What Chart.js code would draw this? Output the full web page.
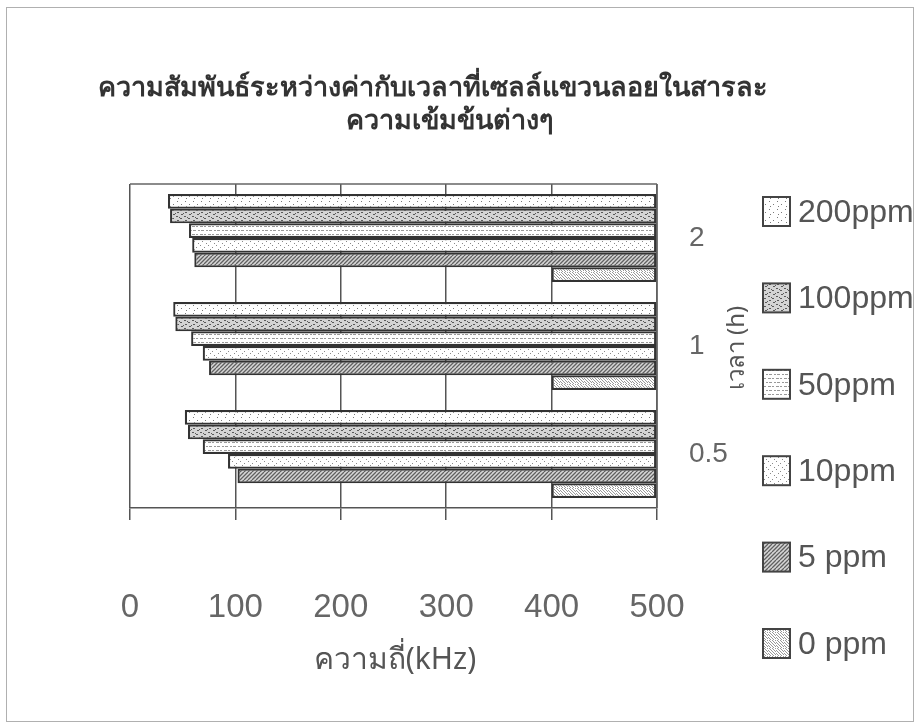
<!DOCTYPE html>
<html>
<head>
<meta charset="utf-8">
<script src="https://cdn.jsdelivr.net/npm/chart.js@4"></script>
<style>
  html, body { margin: 0; padding: 0; background: #fff; }
  #wrap { width: 920px; height: 728px; position: relative; }
</style>
</head>
<body>
<div id="wrap"><canvas id="cv" width="920" height="728"></canvas></div>
<script>
// ---------- Dados ----------
var tempos = ["2", "1", "0.5"];               // eixo de categorias (h), de cima para baixo
var series = ["200ppm", "100ppm", "50ppm", "10ppm", "5 ppm", "0 ppm"];
var ppm200 = [36, 41, 52];
var ppm100 = [38, 43, 55];
var ppm50  = [56, 58, 69];
var ppm10  = [59, 69, 93];
var ppm5   = [61, 75, 102];
var ppm0   = [400, 400, 400];
var xMin = 0, xMax = 500, xPasso = 100;

var tituloLinhas = ["ความสัมพันธ์ระหว่างค่ากับเวลาที่เซลล์แขวนลอยในสารละ", "ความเข้มข้นต่างๆ"];
var tituloX = "ความถี่(kHz)";
var tituloY = "เวลา (h)";

var FONTE = '"Liberation Sans", Arial, sans-serif';
var FONTE_TH = '"Noto Sans", "DejaVu Sans", sans-serif';
var CINZA = "#555";

// ---------- Texturas (impressão em tons de cinza) ----------
function textura(tipo) {
  var c = document.createElement("canvas");
  var s = 8;
  c.width = s; c.height = s;
  var g = c.getContext("2d");
  g.fillStyle = "#fff"; g.fillRect(0, 0, s, s);
  if (tipo === "pontosRaros") {
    g.fillStyle = "#7a7a7a";
    g.fillRect(1, 1, 1, 1); g.fillRect(5, 4, 1, 1); g.fillRect(2, 6, 1, 1);
  } else if (tipo === "pontosDensos") {
    g.fillStyle = "#d4d4d4"; g.fillRect(0, 0, s, s);
    g.fillStyle = "#5a5a5a";
    g.fillRect(0, 0, 2, 1); g.fillRect(4, 2, 2, 1); g.fillRect(1, 4, 2, 1); g.fillRect(5, 6, 2, 1);
    g.fillRect(3, 1, 1, 1); g.fillRect(7, 5, 1, 1);
  } else if (tipo === "linhas") {
    g.fillStyle = "#999";
    g.fillRect(0, 2, 3, 1); g.fillRect(4, 2, 2, 1); g.fillRect(1, 6, 3, 1); g.fillRect(6, 6, 2, 1);
  } else if (tipo === "pontosMedios") {
    g.fillStyle = "#8a8a8a";
    g.fillRect(2, 1, 1, 1); g.fillRect(6, 3, 1, 1); g.fillRect(0, 5, 1, 1); g.fillRect(4, 7, 1, 1);
  } else if (tipo === "hachura") {
    g.fillStyle = "#d6d6d6"; g.fillRect(0, 0, s, s);
    g.strokeStyle = "#606060"; g.lineWidth = 1.3;
    g.beginPath();
    for (var k = -s; k <= s; k += 4) { g.moveTo(k, s); g.lineTo(k + s, 0); }
    g.stroke();
  } else if (tipo === "hachuraInv") {
    g.strokeStyle = "#999"; g.lineWidth = 1;
    g.beginPath();
    for (var j = -s; j <= s; j += 3) { g.moveTo(j, 0); g.lineTo(j + s, s); }
    g.stroke();
  }
  return g.createPattern(c, "repeat");
}

var TEXTURAS = ["pontosRaros", "pontosDensos", "linhas", "pontosMedios", "hachura", "hachuraInv"].map(textura);
var valores = [ppm200, ppm100, ppm50, ppm10, ppm5, ppm0];

var datasets = series.map(function (nome, i) {
  return {
    label: nome,
    data: valores[i],
    base: xMax,                 // barras partem do máximo (eixo cruza em 500)
    backgroundColor: TEXTURAS[i],
    borderColor: "#333",
    borderWidth: 2.2,
    borderSkipped: false
  };
});

// ---------- Plugin: título, moldura, legenda e título do eixo de tempo ----------
var extras = {
  id: "extras",
  afterDraw: function (chart) {
    var ctx = chart.ctx, a = chart.chartArea;
    ctx.save();
    // moldura da página
    ctx.strokeStyle = "#b0b0b0"; ctx.lineWidth = 1;
    ctx.strokeRect(6.5, 7.5, 907, 714);
    // topo e lateral direita da área do gráfico
    ctx.strokeStyle = "#666"; ctx.lineWidth = 1.5;
    ctx.beginPath();
    ctx.moveTo(a.left, a.top); ctx.lineTo(a.right, a.top);
    ctx.moveTo(a.right, a.top); ctx.lineTo(a.right, a.bottom);
    ctx.stroke();

    // título
    ctx.fillStyle = "#333";
    ctx.textAlign = "center"; ctx.textBaseline = "middle";
    ctx.font = "bold 27px " + FONTE_TH;
    ctx.fillText(tituloLinhas[0], 433, 88);
    ctx.fillText(tituloLinhas[1], 450, 121);

    // título do eixo X
    ctx.fillStyle = CINZA;
    ctx.font = "30px " + FONTE_TH;
    ctx.fillText(tituloX, 395, 660);

    // título do eixo de tempo (rotacionado, lê de baixo para cima)
    ctx.save();
    ctx.translate(737, 348);
    ctx.rotate(-Math.PI / 2);
    ctx.font = "24px " + FONTE_TH;
    ctx.fillText(tituloY, 0, 0);
    ctx.restore();

    // legenda
    ctx.textAlign = "left";
    ctx.font = "32px " + FONTE;
    chart.data.datasets.forEach(function (ds, i) {
      var cy = 211 + i * 86.4;
      ctx.fillStyle = ds.backgroundColor;
      ctx.fillRect(763, cy - 14, 27, 29);
      ctx.strokeStyle = "#444"; ctx.lineWidth = 2;
      ctx.strokeRect(763, cy - 14, 27, 29);
      ctx.fillStyle = CINZA;
      ctx.fillText(ds.label, 798, cy + 2);
    });
    ctx.restore();
  }
};

new Chart(document.getElementById("cv"), {
  type: "bar",
  data: { labels: tempos, datasets: datasets },
  options: {
    indexAxis: "y",
    responsive: false,
    animation: false,
    layout: { padding: { left: 130, top: 184, right: 0, bottom: 0 } },
    datasets: { bar: { categoryPercentage: 0.815, barPercentage: 1 } },
    scales: {
      x: {
        type: "linear",
        position: "bottom",
        min: xMin, max: xMax,
        ticks: { stepSize: xPasso, color: "#666", font: { family: FONTE, size: 33 }, padding: 68, maxRotation: 0 },
        grid: { color: "#555", lineWidth: 1.5, tickLength: 12, drawTicks: true },
        border: { color: "#555", width: 1.5 },
        afterFit: function (s) { s.height = 220; }
      },
      y: {
        position: "right",
        ticks: { color: "#666", font: { family: FONTE, size: 28 }, padding: 24 },
        grid: { display: false },
        border: { display: false },
        afterFit: function (s) { s.width = 263; }
      }
    },
    plugins: { legend: { display: false }, title: { display: false }, tooltip: { enabled: false } }
  },
  plugins: [extras]
});
</script>
</body>
</html>
